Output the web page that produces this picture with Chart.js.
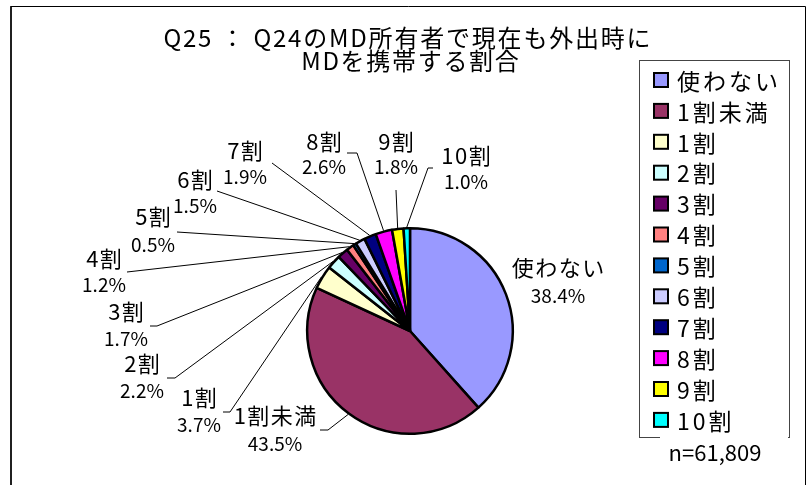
<!DOCTYPE html>
<html><head><meta charset="utf-8">
<script src="https://cdn.jsdelivr.net/npm/chart.js@4"></script>
<style>html,body{margin:0;padding:0;background:#fff}</style>
</head><body>
<canvas id="c" width="810" height="485"></canvas>
<script>
const categories = ['使わない','1割未満','1割','2割','3割','4割','5割','6割','7割','8割','9割','10割'];
const shares = [38.4, 43.5, 3.7, 2.2, 1.7, 1.2, 0.5, 1.5, 1.9, 2.6, 1.8, 1.0];
const sliceColors = ['#9999FF','#993366','#FFFFCC','#CCFFFF','#660066','#FF8080','#0066CC','#CCCCFF','#000080','#FF00FF','#FFFF00','#00FFFF'];
const titleLines = ['Q25 ： Q24のMD所有者で現在も外出時に', 'MDを携帯する割合'];
const sampleNote = 'n=61,809';

// label placement (text centres and leader-line start / elbow)
const labelLayout = [
  {x:558, y1:268, y2:296, line:null},
  {x:275, y1:416, y2:444, line:[[320,430],[328,430]]},
  {x:199, y1:398, y2:425, line:[[223,412],[230,412]]},
  {x:142, y1:364, y2:391, line:[[167,378],[175,378]]},
  {x:126, y1:312, y2:339, line:[[150,326],[157,326]]},
  {x:104, y1:259, y2:285, line:[[127,272]]},
  {x:153, y1:217, y2:245, line:[[177,232]]},
  {x:195, y1:180, y2:206, line:[[217,191]]},
  {x:245, y1:151, y2:177, line:[[272,163]]},
  {x:324, y1:142, y2:167, line:[[347,153],[357,153]]},
  {x:396, y1:142, y2:167, line:[[396,190]]},
  {x:466, y1:156, y2:182, line:[[433,168],[428,168]]}
];

const FONT = '"Noto Sans CJK JP", "Noto Sans", sans-serif';

function spacedText(ctx, text, x, y, spacing, align) {
  ctx.letterSpacing = spacing + 'px';
  const w = ctx.measureText(text).width - spacing;
  let sx = x;
  if (align === 'center') sx = x - w / 2;
  ctx.textAlign = 'left';
  ctx.fillText(text, sx, y);
  ctx.letterSpacing = '0px';
}

const decor = {
  id: 'decor',
  beforeDraw(chart) {
    const ctx = chart.ctx;
    ctx.save();
    ctx.fillStyle = '#fff';
    ctx.fillRect(0, 0, chart.width, chart.height);
    ctx.strokeStyle = '#000';
    ctx.lineWidth = 1;
    ctx.beginPath();
    ctx.moveTo(11, 500); ctx.lineTo(11, 6.5); ctx.lineTo(805.5, 6.5); ctx.lineTo(805.5, 500);
    ctx.stroke();
    ctx.lineWidth = 1.5;
    ctx.beginPath(); ctx.moveTo(11, 6); ctx.lineTo(11, 490); ctx.stroke();
    ctx.restore();
  },
  afterDraw(chart) {
    const ctx = chart.ctx;
    const meta = chart.getDatasetMeta(0);
    ctx.save();
    ctx.fillStyle = '#000';
    ctx.textBaseline = 'middle';
    ctx.font = '24px ' + FONT;
    spacedText(ctx, titleLines[0], 407, 38, 1.8, 'center');
    spacedText(ctx, titleLines[1], 410, 61, 1.7, 'center');

    // leader lines
    ctx.strokeStyle = '#000';
    ctx.lineWidth = 1;
    meta.data.forEach((arc, i) => {
      const L = labelLayout[i];
      if (!L.line) return;
      const mid = (arc.startAngle + arc.endAngle) / 2;
      const r = arc.outerRadius + 1;
      const ex = arc.x + Math.cos(mid) * r;
      const ey = arc.y + Math.sin(mid) * r;
      ctx.beginPath();
      ctx.moveTo(L.line[0][0], L.line[0][1]);
      for (let k = 1; k < L.line.length; k++) ctx.lineTo(L.line[k][0], L.line[k][1]);
      ctx.lineTo(ex, ey);
      ctx.stroke();
    });

    // labels
    meta.data.forEach((arc, i) => {
      const L = labelLayout[i];
      ctx.font = '22px ' + FONT;
      spacedText(ctx, categories[i], L.x, L.y1, 1.5, 'center');
      ctx.font = '19px ' + FONT;
      spacedText(ctx, shares[i].toFixed(1) + '%', L.x, L.y2, 0, 'center');
    });

    // legend
    ctx.strokeStyle = '#444';
    ctx.lineWidth = 1;
    ctx.strokeRect(639.5, 60.5, 150, 377);
    ctx.font = '23px ' + FONT;
    categories.forEach((c, i) => {
      const y = 80 + i * 30.9;
      ctx.fillStyle = sliceColors[i];
      ctx.fillRect(654, y - 7, 14, 14);
      ctx.strokeStyle = '#000';
      ctx.lineWidth = 2;
      ctx.strokeRect(654, y - 7, 14, 14);
      ctx.fillStyle = '#000';
      spacedText(ctx, c, 677, y + 1, 3, 'left');
    });
    // sample note
    ctx.fillStyle = '#fff';
    ctx.fillRect(660, 437, 128, 36);
    ctx.fillStyle = '#000';
    ctx.font = '22px ' + FONT;
    spacedText(ctx, sampleNote, 715, 453, 0, 'center');
    ctx.restore();
  }
};

new Chart(document.getElementById('c'), {
  type: 'pie',
  data: {
    labels: categories,
    datasets: [{
      data: shares,
      backgroundColor: sliceColors,
      borderColor: '#000',
      borderWidth: 2.5
    }]
  },
  options: {
    responsive: false,
    animation: false,
    layout: { padding: { left: 306, right: 296, top: 227, bottom: 50 } },
    plugins: { legend: { display: false }, title: { display: false }, tooltip: { enabled: false } }
  },
  plugins: [decor]
});
</script>
</body></html>
